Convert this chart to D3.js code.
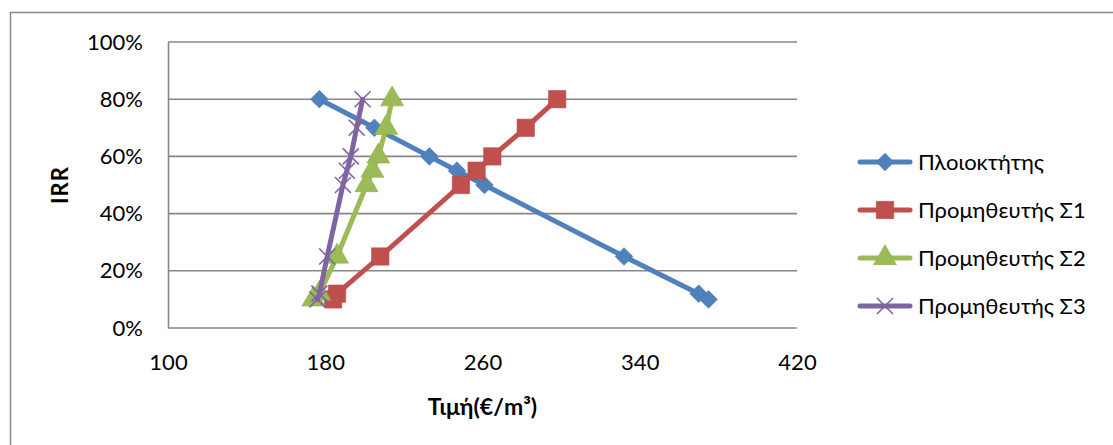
<!DOCTYPE html>
<html>
<head>
<meta charset="utf-8">
<script src="https://cdn.jsdelivr.net/npm/d3@7"></script>
<style>
  html, body { margin: 0; padding: 0; background: #fff; }
  svg { display: block; font-family: Lato, "Open Sans", sans-serif; }
</style>
</head>
<body>
<svg id="chart" width="1113" height="445"></svg>
<script>
// IRR levels shared by all series
const irrLevels = [0.80, 0.70, 0.60, 0.55, 0.50, 0.25, 0.12, 0.10];

// Price (€/m³) for each IRR level, per party
const shipownerPrice = [177, 205, 233, 247, 261, 332, 370, 375];
const supplier1Price = [298, 282, 265, 257, 249, 208, 186, 184];
const supplier2Price = [214, 211, 207, 204, 201, 186, 177, 174];
const supplier3Price = [199, 196, 193, 191, 189, 181, 177, 176];

const seriesNames = ["Πλοιοκτήτης", "Προμηθευτής Σ1", "Προμηθευτής Σ2", "Προμηθευτής Σ3"];
const seriesColors = ["#4F81BD", "#C0504D", "#9BBB59", "#8064A2"];
const seriesMarkers = ["diamond", "square", "triangle", "cross"];

const xTicks = [100, 180, 260, 340, 420];
const yTicks = [0, 0.2, 0.4, 0.6, 0.8, 1.0];

const seriesPrices = [shipownerPrice, supplier1Price, supplier2Price, supplier3Price];
const series = seriesNames.map((name, i) => ({
  name,
  color: seriesColors[i],
  marker: seriesMarkers[i],
  points: seriesPrices[i].map((p, j) => ({ x: p, y: irrLevels[j] }))
}));

const svg = d3.select("#chart");
const plot = { left: 168, right: 797, top: 42, bottom: 328 };
const grey = "#878787";

const x = d3.scaleLinear().domain([100, 420]).range([plot.left, plot.right]);
const y = d3.scaleLinear().domain([0, 1]).range([plot.bottom, plot.top]);

// Outer chart frame (top and left edges)
svg.append("path")
  .attr("d", "M10.5,445 V12.5 H1113")
  .attr("fill", "none")
  .attr("stroke", grey)
  .attr("stroke-width", 1.5);

// Horizontal gridlines
svg.append("g")
  .selectAll("line")
  .data(yTicks)
  .join("line")
  .attr("x1", plot.left).attr("x2", plot.right)
  .attr("y1", d => y(d)).attr("y2", d => y(d))
  .attr("stroke", grey)
  .attr("stroke-width", 1.6);

// Y axis
const yAxis = d3.axisLeft(y).tickValues(yTicks).tickFormat(d3.format(".0%")).tickSize(0).tickPadding(25);
const gy = svg.append("g").attr("transform", `translate(${plot.left},0)`).call(yAxis);
gy.select(".domain").attr("stroke", grey).attr("stroke-width", 1.6);
gy.selectAll("text").attr("font-size", 22).attr("fill", "#000").attr("font-family", "Lato");

// X axis (labels only, the baseline is the 0% gridline)
const xAxis = d3.axisBottom(x).tickValues(xTicks).tickFormat(d3.format("d")).tickSize(0).tickPadding(26);
const gx = svg.append("g").attr("transform", `translate(0,${plot.bottom})`).call(xAxis);
gx.select(".domain").remove();
gx.selectAll("text").attr("font-size", 22).attr("fill", "#000").attr("font-family", "Lato");

// Axis titles
svg.append("text")
  .attr("x", (plot.left + plot.right) / 2)
  .attr("y", 415)
  .attr("text-anchor", "middle")
  .attr("font-size", 23)
  .attr("font-weight", "bold")
  .text("Τιμή(€/m³)");

svg.append("text")
  .attr("transform", `translate(68,${(plot.top + plot.bottom) / 2}) rotate(-90)`)
  .attr("text-anchor", "middle")
  .attr("font-size", 22)
  .attr("font-weight", "bold")
  .attr("letter-spacing", 1)
  .text("IRR");

// Marker shapes
function markerPath(type) {
  switch (type) {
    case "diamond": return d3.symbol(d3.symbolDiamond2, 200)();
    case "square": return d3.symbol(d3.symbolSquare, 300)();
    case "triangle": return d3.symbol(d3.symbolTriangle, 230)();
    case "cross": return "M-8,-8L8,8M-8,8L8,-8";
  }
}
function drawMarker(g, s) {
  const p = g.append("path").attr("d", markerPath(s.marker));
  if (s.marker === "cross") {
    p.attr("fill", "none").attr("stroke", s.color).attr("stroke-width", 1.6);
  } else {
    p.attr("fill", s.color).attr("stroke", d3.color(s.color).darker(0.25)).attr("stroke-width", 0.6);
  }
  return p;
}

const line = d3.line().x(d => x(d.x)).y(d => y(d.y));

// Series lines and markers
series.forEach(s => {
  const g = svg.append("g");
  g.append("path")
    .attr("d", line(s.points))
    .attr("fill", "none")
    .attr("stroke", s.color)
    .attr("stroke-width", 5)
    .attr("stroke-linejoin", "round")
    .attr("stroke-linecap", "round");
  s.points.forEach(pt => {
    const m = g.append("g").attr("transform", `translate(${x(pt.x)},${y(pt.y)})`);
    drawMarker(m, s);
  });
});

// Legend
const legend = svg.append("g");
series.forEach((s, i) => {
  const cy = 162 + i * 48;
  const row = legend.append("g").attr("transform", `translate(0,${cy})`);
  row.append("line")
    .attr("x1", 860).attr("x2", 910)
    .attr("stroke", s.color)
    .attr("stroke-width", 5)
    .attr("stroke-linecap", "round");
  const m = row.append("g").attr("transform", "translate(885,0)");
  drawMarker(m, s);
  row.append("text")
    .attr("x", 918)
    .attr("y", 0)
    .attr("dy", "0.35em")
    .attr("font-size", 22)
    .text(s.name);
});
</script>
</body>
</html>
